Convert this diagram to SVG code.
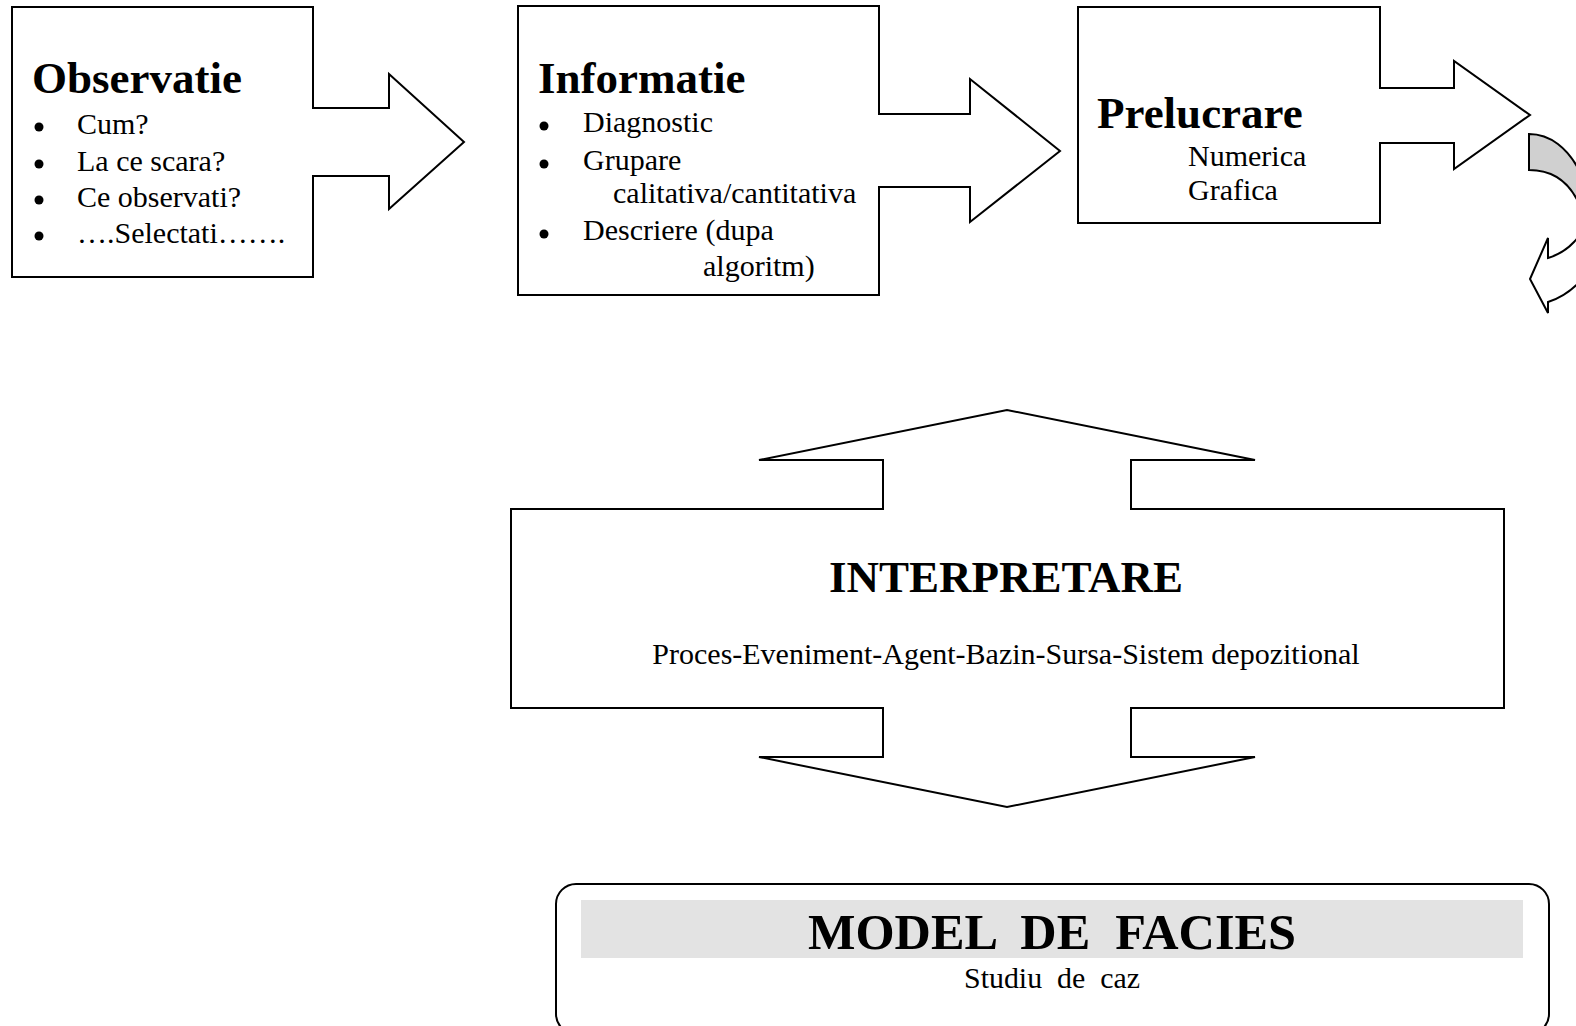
<svg xmlns="http://www.w3.org/2000/svg" width="1576" height="1026" viewBox="0 0 1576 1026">
<style>
.shape{fill:#fff;stroke:#000;stroke-width:2;stroke-linejoin:miter}
.t{font-family:"Liberation Serif","Times New Roman",serif;fill:#000}
.title{font-size:45px;font-weight:bold}
.body{font-size:30px}
.pre{white-space:pre}
.bul{fill:#000}
</style>
<rect width="1576" height="1026" fill="#fff"/>
<g id="connectors">
  <g id="curved-arrow">
    <path d="M1529,134 C1550,134 1568,148 1580,172 L1580,206 C1570,182 1552,170 1529,170 Z" fill="#d0d0d0" stroke="#000" stroke-width="2"/>
    <path d="M1590,212 C1584,236 1568,252 1548,258 L1548,238 L1530,279 L1548,313 L1548,302 C1566,296 1580,284 1590,268 Z" fill="#fff" stroke="#000" stroke-width="2"/>
  </g>
</g>
<g id="node-observatie">
  <polygon class="shape" points="12,7 313,7 313,108 389,108 389,74 464,142 389,209 389,176 313,176 313,277 12,277"/>
  <text class="t title" x="32" y="93">Observatie</text>
  <circle class="bul" cx="39" cy="127" r="4.5"/>
  <circle class="bul" cx="39" cy="164" r="4.5"/>
  <circle class="bul" cx="39" cy="200" r="4.5"/>
  <circle class="bul" cx="39" cy="236" r="4.5"/>
  <text class="t body" x="77" y="134">Cum?</text>
  <text class="t body" x="77" y="171">La ce scara?</text>
  <text class="t body" x="77" y="207">Ce observati?</text>
  <text class="t body" x="77" y="243">….Selectati…….</text>
</g>
<g id="node-informatie">
  <polygon class="shape" points="518,6 879,6 879,114 970,114 970,79 1060,151 970,222 970,187 879,187 879,295 518,295"/>
  <text class="t title" x="538" y="93">Informatie</text>
  <circle class="bul" cx="544" cy="126" r="4.5"/>
  <circle class="bul" cx="544" cy="164" r="4.5"/>
  <circle class="bul" cx="544" cy="234" r="4.5"/>
  <text class="t body" x="583" y="132">Diagnostic</text>
  <text class="t body" x="583" y="170">Grupare</text>
  <text class="t body" x="613" y="203">calitativa/cantitativa</text>
  <text class="t body" x="583" y="240">Descriere (dupa</text>
  <text class="t body" x="703" y="276">algoritm)</text>
</g>
<g id="node-prelucrare">
  <polygon class="shape" points="1078,7 1380,7 1380,88 1454,88 1454,61 1530,115 1454,169 1454,143 1380,143 1380,223 1078,223"/>
  <text class="t title" x="1097" y="128">Prelucrare</text>
  <text class="t body" x="1188" y="166">Numerica</text>
  <text class="t body" x="1188" y="200">Grafica</text>
</g>
<g id="node-interpretare">
  <polygon class="shape" points="511,509 883,509 883,460 759,460 1007,410 1255,460 1131,460 1131,509 1504,509 1504,708 1131,708 1131,757 1255,757 1007,807 759,757 883,757 883,708 511,708"/>
  <text class="t title" x="1006" y="592" text-anchor="middle">INTERPRETARE</text>
  <text class="t body" x="1006" y="664" text-anchor="middle">Proces-Eveniment-Agent-Bazin-Sursa-Sistem depozitional</text>
</g>
<g id="node-model">
  <rect x="556" y="884" width="993" height="150" rx="20" ry="20" fill="#fff" stroke="#000" stroke-width="2"/>
  <rect x="581" y="900" width="942" height="58" fill="#e3e3e3"/>
  <text class="t pre" x="1052" y="949" text-anchor="middle" font-size="51" font-weight="bold" textLength="488" lengthAdjust="spacingAndGlyphs">MODEL  DE  FACIES</text>
  <text class="t pre" x="1052" y="988" text-anchor="middle" font-size="29" textLength="176" lengthAdjust="spacingAndGlyphs">Studiu  de  caz</text>
</g>
</svg>
